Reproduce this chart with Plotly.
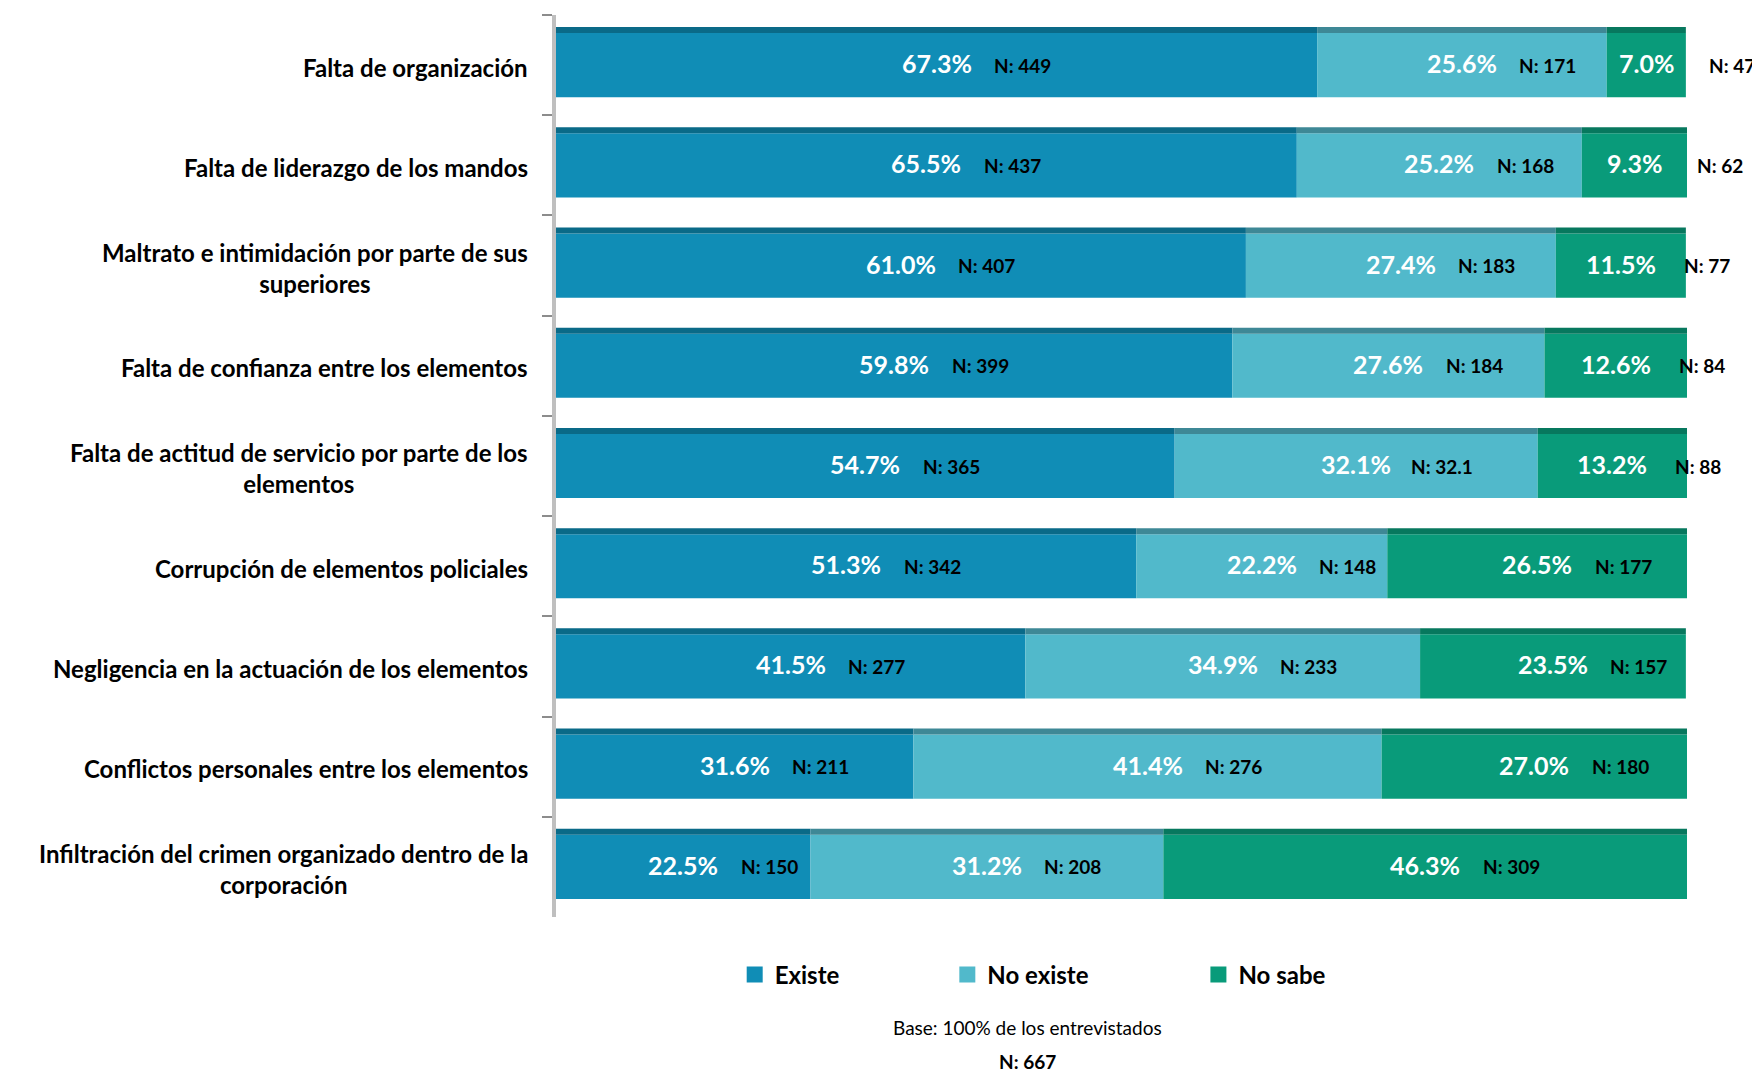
import plotly.graph_objects as go

categories = [
    "Falta de organización",
    "Falta de liderazgo de los mandos",
    "Maltrato e intimidación por parte de sus<br>superiores",
    "Falta de confianza entre los elementos",
    "Falta de actitud de servicio por parte de los<br>elementos",
    "Corrupción de elementos policiales",
    "Negligencia en la actuación de los elementos",
    "Conflictos personales entre los elementos",
    "Infiltración del crimen organizado dentro de la<br>corporación",
]
existe = [67.3, 65.5, 61.0, 59.8, 54.7, 51.3, 41.5, 31.6, 22.5]
no_existe = [25.6, 25.2, 27.4, 27.6, 32.1, 22.2, 34.9, 41.4, 31.2]
no_sabe = [7.0, 9.3, 11.5, 12.6, 13.2, 26.5, 23.5, 27.0, 46.3]
n_existe = ["449", "437", "407", "399", "365", "342", "277", "211", "150"]
n_no_existe = ["171", "168", "183", "184", "32.1", "148", "233", "276", "208"]
n_no_sabe = ["47", "62", "77", "84", "88", "177", "157", "180", "309"]
series_names = ["Existe", "No existe", "No sabe"]

colors = ["#108DB6", "#51B9CB", "#099B7A"]
top_colors = ["#0A6A88", "#3E8896", "#07785E"]
legend_ids = ["legend", "legend2", "legend3"]
legend_x = [0.158, 0.346, 0.568]

FONT = "Lato"
fig = go.Figure()

series = [existe, no_existe, no_sabe]
ns = [n_existe, n_no_existe, n_no_sabe]
bases = []
cum = [0.0] * len(categories)
for vals in series:
    bases.append(list(cum))
    cum = [c + v for c, v in zip(cum, vals)]

for i, (name, vals) in enumerate(zip(series_names, series)):
    fig.add_trace(go.Bar(
        y=categories, x=vals, base=bases[i], orientation="h", name=name,
        marker=dict(color=colors[i], line=dict(width=0)),
        width=0.64, offset=-0.32, hoverinfo="skip", showlegend=False,
    ))
for i, (name, vals) in enumerate(zip(series_names, series)):
    fig.add_trace(go.Bar(
        y=categories, x=vals, base=bases[i], orientation="h", name=name,
        marker=dict(color=top_colors[i], line=dict(width=0)),
        width=0.06, offset=-0.38, showlegend=False, hoverinfo="skip",
    ))
# legend entries (square swatches)
for i, name in enumerate(series_names):
    fig.add_trace(go.Scatter(
        x=[None], y=[None], mode="markers", name=f"<b>{name}</b>",
        marker=dict(symbol="square", size=16, color=colors[i]),
        legend=legend_ids[i], hoverinfo="skip",
    ))

annotations = []
for i, vals in enumerate(series):
    for j, v in enumerate(vals):
        xc = bases[i][j] + v / 2
        annotations.append(dict(
            x=xc, y=categories[j], xref="x", yref="y", text=f"<b>{v:.1f}%</b>",
            showarrow=False, font=dict(family=FONT, size=25, color="white"),
            xanchor="center", yanchor="middle", yshift=2,
        ))
        annotations.append(dict(
            x=xc, y=categories[j], xref="x", yref="y", text=f"<b>N: {ns[i][j]}</b>",
            showarrow=False, font=dict(family=FONT, size=19, color="black"),
            xanchor="center", yanchor="middle", xshift=86, yshift=0,
        ))

for c in categories:
    annotations.append(dict(
        x=0, y=c, xref="paper", yref="y", text=f"<b>{c}</b>", showarrow=False,
        xanchor="right", yanchor="middle", align="center", xshift=-26, yshift=-2,
        font=dict(family=FONT, size=24, color="black"),
    ))

annotations.append(dict(
    x=0.4165, y=-0.122, xref="paper", yref="paper", text="Base: 100% de los entrevistados",
    showarrow=False, xanchor="center", yanchor="middle",
    font=dict(family=FONT, size=19, color="black"),
))
annotations.append(dict(
    x=0.4165, y=-0.1605, xref="paper", yref="paper", text="<b>N: 667</b>",
    showarrow=False, xanchor="center", yanchor="middle",
    font=dict(family=FONT, size=19, color="black"),
))

legend_font = dict(family=FONT, size=24, color="black")
layout_legends = {}
for lid, lx in zip(legend_ids, legend_x):
    layout_legends[lid] = dict(
        orientation="h", x=lx, y=-0.0643, xanchor="left", yanchor="middle",
        font=legend_font, bgcolor="rgba(0,0,0,0)", itemsizing="trace",
    )

fig.update_layout(
    width=1752, height=1069,
    barmode="overlay",
    plot_bgcolor="white", paper_bgcolor="white",
    margin=dict(l=548, r=73, t=7, b=160),
    xaxis=dict(range=[0, 100], visible=False, fixedrange=True),
    yaxis=dict(
        categoryorder="array", categoryarray=categories, autorange="reversed",
        showticklabels=False, showline=True, linecolor="#BFBFBF", linewidth=4,
        ticks="outside", tickson="boundaries", ticklen=10, tickcolor="#8C8C8C",
        tickwidth=2, showgrid=False, zeroline=False,
    ),
    font=dict(family=FONT),
    annotations=annotations,
    **layout_legends,
)

fig.write_html("out.html")
